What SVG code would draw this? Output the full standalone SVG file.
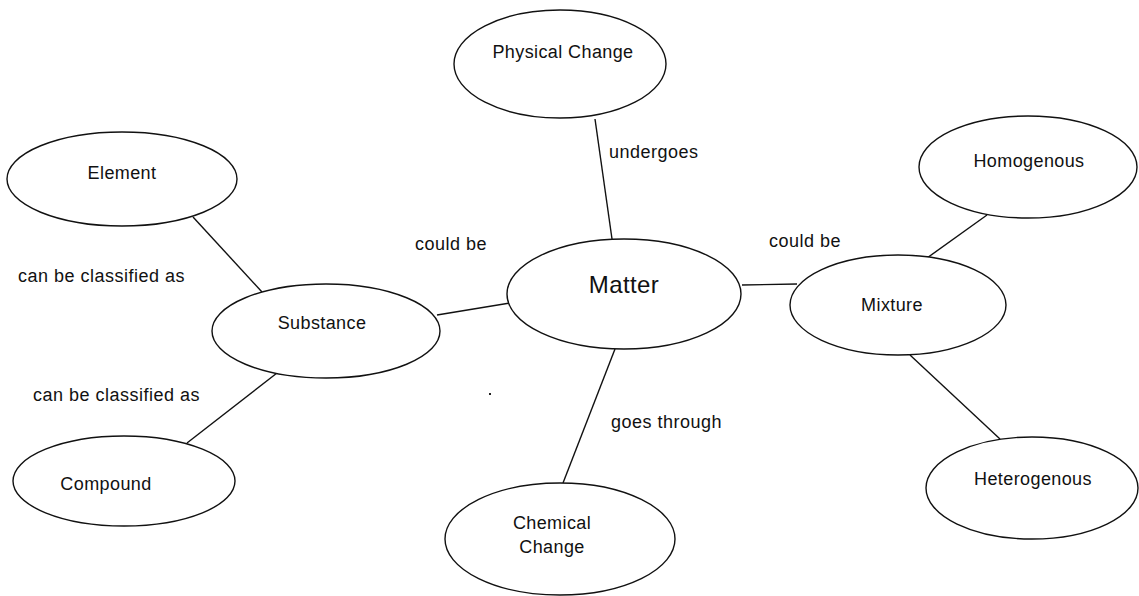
<svg xmlns="http://www.w3.org/2000/svg" width="1139" height="596" viewBox="0 0 1139 596">
  <style>
    .node ellipse { fill: #ffffff; stroke: #111111; stroke-width: 1.4; }
    .node text { font-family: "Liberation Sans", Arial, sans-serif; font-size: 18px; fill: #111111; text-anchor: middle; letter-spacing: 0.4px; }
    #connectors line { stroke: #111111; stroke-width: 1.4; }
    .label { font-family: "Liberation Sans", Arial, sans-serif; font-size: 18px; fill: #111111; letter-spacing: 0.5px; }
  </style>
  <rect width="1139" height="596" fill="#ffffff"/>

  <g id="connectors">
    <line x1="595" y1="119" x2="612" y2="239"/>
    <line x1="193" y1="217" x2="262" y2="292"/>
    <line x1="277" y1="373" x2="187" y2="443"/>
    <line x1="437" y1="315" x2="510" y2="303"/>
    <line x1="742" y1="285" x2="797" y2="284"/>
    <line x1="615" y1="349" x2="563" y2="483"/>
    <line x1="927" y1="258" x2="987" y2="215"/>
    <line x1="910" y1="355" x2="1000" y2="439"/>
  </g>

  <g id="node-physical-change" class="node">
    <ellipse cx="560" cy="64" rx="106" ry="54"/>
    <text x="563" y="58">Physical Change</text>
  </g>
  <g id="node-element" class="node">
    <ellipse cx="122" cy="179" rx="115" ry="47"/>
    <text x="122" y="179">Element</text>
  </g>
  <g id="node-substance" class="node">
    <ellipse cx="326" cy="331" rx="114" ry="47"/>
    <text x="322" y="329">Substance</text>
  </g>
  <g id="node-compound" class="node">
    <ellipse cx="124" cy="481" rx="111" ry="45"/>
    <text x="106" y="490">Compound</text>
  </g>
  <g id="node-matter" class="node">
    <ellipse cx="624" cy="294" rx="117" ry="55"/>
    <text x="624" y="293" style="font-size:24px">Matter</text>
  </g>
  <g id="node-chemical-change" class="node">
    <ellipse cx="560" cy="539" rx="115" ry="56"/>
    <text x="552" y="529">Chemical</text>
    <text x="552" y="553">Change</text>
  </g>
  <g id="node-homogenous" class="node">
    <ellipse cx="1028" cy="167" rx="109" ry="51"/>
    <text x="1029" y="167">Homogenous</text>
  </g>
  <g id="node-mixture" class="node">
    <ellipse cx="898" cy="305" rx="108" ry="50"/>
    <text x="892" y="311">Mixture</text>
  </g>
  <g id="node-heterogenous" class="node">
    <ellipse cx="1032" cy="488" rx="106" ry="51"/>
    <text x="1033" y="485">Heterogenous</text>
  </g>

  <g id="labels">
    <text class="label" x="609" y="158">undergoes</text>
    <text class="label" x="415" y="250">could be</text>
    <text class="label" x="769" y="247">could be</text>
    <text class="label" x="611" y="428">goes through</text>
    <text class="label" x="18" y="282">can be classified as</text>
    <text class="label" x="33" y="401">can be classified as</text>
  </g>

  <!-- stray speck left on the canvas -->
  <rect x="489" y="393" width="2" height="2" fill="#222222"/>
</svg>
